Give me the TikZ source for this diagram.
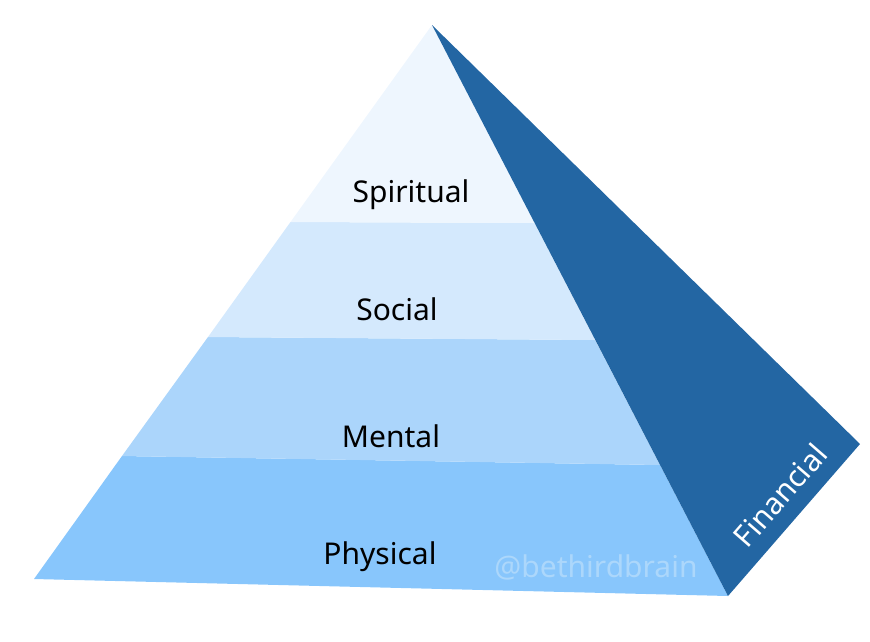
\documentclass[tikz,border=0pt]{standalone}
\usepackage{fontspec}
\setmainfont{Noto Sans}
\usepackage{tikz}

\definecolor{spiritcol}{HTML}{EEF6FE}
\definecolor{socialcol}{HTML}{D4E9FD}
\definecolor{mentalcol}{HTML}{ABD5FB}
\definecolor{physcol}{HTML}{88C6FC}
\definecolor{sidecol}{HTML}{2366A3}
\definecolor{markcol}{HTML}{ACD7FB}

\tikzset{
  layer/.style={font=\fontsize{30}{36}\selectfont, text=black},
  sidelabel/.style={font=\fontsize{30}{36}\selectfont, text=white},
  watermark/.style={font=\fontsize{30}{36}\selectfont, text=markcol}
}

\begin{document}
\begin{tikzpicture}[x=1pt,y=-1pt]
\useasboundingbox (0,0) rectangle (870,641);

\coordinate (top) at (432,25);
\coordinate (bl) at (34,579);
\coordinate (br) at (728,596);
\coordinate (back) at (860,444);

\coordinate (A) at (290.5,222);
\coordinate (A2) at (534.5,223);
\coordinate (B) at (208,337);
\coordinate (B2) at (595,340);
\coordinate (C) at (122,456);
\coordinate (C2) at (660,465);

% bottom layer
\fill[physcol] (C) -- (C2) -- (br) -- (bl) -- cycle;
% third layer
\fill[mentalcol] (B) -- (B2) -- (C2) -- (C) -- cycle;
% second layer
\fill[socialcol] (A) -- (A2) -- (B2) -- (B) -- cycle;
% top layer
\fill[spiritcol] (top) -- (A2) -- (A) -- cycle;
% side face
\fill[sidecol] (top) -- (back) -- (br) -- cycle;

\node[layer] (spiritual) at (411,195) {Spiritual};
\node[layer] (social) at (397,309) {Social};
\node[layer] (mental) at (391,436) {Mental};
\node[layer] (physical) at (380,557) {Physical};
\node[watermark] (mark) at (596,567) {@bethirdbrain};
\node[sidelabel, rotate=49] (financial) at (780,495) {Financial};

\end{tikzpicture}
\end{document}
